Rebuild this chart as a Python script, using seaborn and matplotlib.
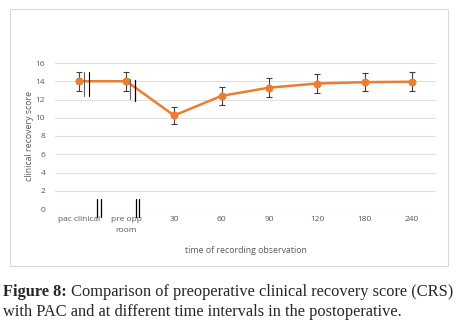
import matplotlib
matplotlib.use("Agg")
import matplotlib.pyplot as plt
import numpy as np
import pandas as pd
import seaborn as sns
from matplotlib.patches import Rectangle

categories = ["pac clinical", "pre opp\nroom", "30", "60", "90", "120", "180", "240"]
crs_mean = [14.0, 14.0, 10.25, 12.4, 13.3, 13.75, 13.9, 13.95]
crs_err = [1.05, 1.05, 0.95, 0.98, 1.03, 1.0, 0.98, 1.05]

caption_head = "Figure 8:"
caption_line1 = " Comparison of preoperative clinical recovery score (CRS)"
caption_line2 = "with PAC and at different time intervals in the postoperative."

orange = "#ED7D31"
tick_grey = "#595959"

sns.set_style("white")
plt.rcParams['font.family'] = ['Open Sans', 'DejaVu Sans']

df = pd.DataFrame({'pos': np.arange(len(categories)), 'CRS': crs_mean, 'err': crs_err})

fig = plt.figure(figsize=(4.57, 3.34), dpi=100)
# chart frame
fig.patches.append(Rectangle((10 / 457, 1 - 266 / 334), 438 / 457, 257 / 334,
                             transform=fig.transFigure, fill=False,
                             edgecolor="#d9d9d9", linewidth=0.8))

ax = fig.add_axes([55 / 457, 1 - 209 / 334, 381 / 457, 146 / 334])
ax.errorbar(df['pos'], df['CRS'], yerr=df['err'], fmt='none',
            ecolor="#404040", elinewidth=0.8, capsize=2.2, capthick=0.8, zorder=2)
sns.lineplot(data=df, x='pos', y='CRS', ax=ax, color=orange, linewidth=1.8,
             marker='o', markersize=5, markeredgecolor=orange, zorder=3)

# break marks drawn in the original
ax.plot([0.11, 0.11], [12.4, 15.0], color="#606060", lw=0.8, zorder=4)
ax.plot([0.22, 0.22], [12.35, 15.0], color="black", lw=0.8, zorder=4)
ax.plot([1.08, 1.08], [12.05, 14.2], color="#606060", lw=0.8, zorder=4)
ax.plot([1.19, 1.19], [11.8, 14.1], color="black", lw=0.9, zorder=4)
for x0 in [0.39, 0.46, 1.2, 1.27]:
    ax.plot([x0, x0], [1.15, -0.85], color="black", lw=0.9, clip_on=False, zorder=4)

ax.set_xlim(-0.5, len(categories) - 0.5)
ax.set_ylim(0, 16)
ax.set_yticks(np.arange(0, 17, 2))
ax.set_xticks(df['pos'])
ax.set_xticklabels(categories, fontsize=6, color=tick_grey, linespacing=1.8)
ax.tick_params(axis='y', labelsize=6, labelcolor=tick_grey, length=0, pad=7)
ax.tick_params(axis='x', length=0, pad=5)
ax.grid(axis='y', color="#e0e0e0", linewidth=0.8)
ax.set_axisbelow(True)
for s in ax.spines.values():
    s.set_visible(False)

ax.set_ylabel("clinical recovery score", fontsize=6.3, color=tick_grey, labelpad=1)
ax.set_xlabel("time of recording observation", fontsize=6.3, color=tick_grey, labelpad=9)

cap_size = 11.8
head = fig.text(3 / 457, 1 - 292 / 334, caption_head, fontsize=cap_size,
                family='Liberation Serif', weight='bold', va='center', ha='left')
renderer = fig.canvas.get_renderer()
bb = head.get_window_extent(renderer)
fig.text(bb.x1 / fig.bbox.width, 1 - 292 / 334, caption_line1, fontsize=cap_size,
         family='Liberation Serif', va='center', ha='left')
fig.text(3 / 457, 1 - 312 / 334, caption_line2, fontsize=cap_size,
         family='Liberation Serif', va='center', ha='left')

fig.savefig("out.png", dpi=100)
